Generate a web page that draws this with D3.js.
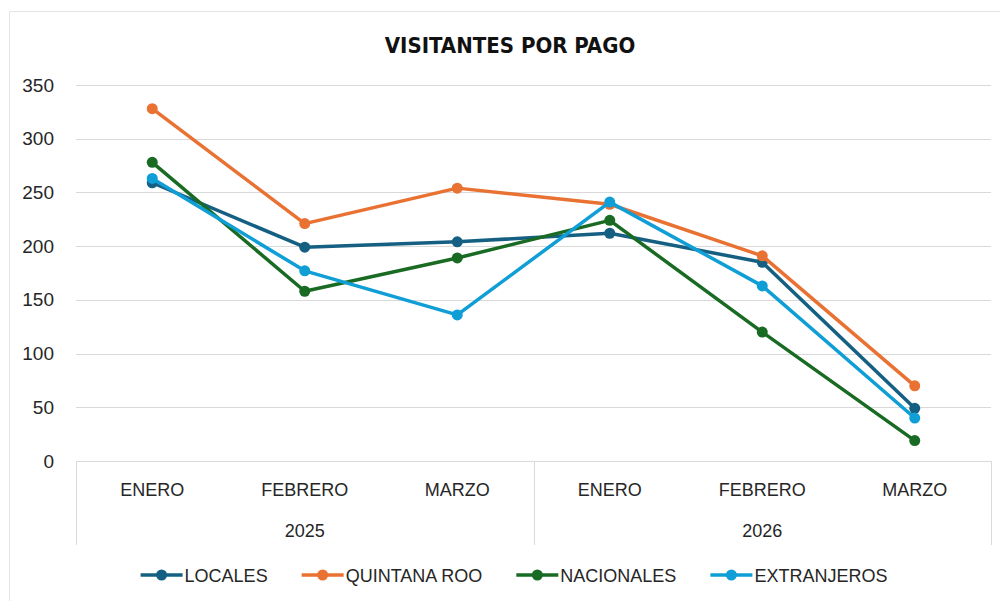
<!DOCTYPE html>
<html>
<head>
<meta charset="utf-8">
<script src="https://cdn.jsdelivr.net/npm/d3@7"></script>
<style>
  body { margin: 0; background: #fff; }
  svg { display: block; font-family: "Liberation Sans", Arial, sans-serif; }
</style>
</head>
<body>
<div class="chart-container"></div>
<script>
// data
var months = ["ENERO", "FEBRERO", "MARZO", "ENERO", "FEBRERO", "MARZO"];
var years = ["2025", "2026"];
var yTicks = [0, 50, 100, 150, 200, 250, 300, 350];

var locales     = [259, 199, 204, 212, 185, 49];
var quintanaRoo = [328, 221, 254, 239, 191, 70];
var nacionales  = [278, 158, 189, 224, 120, 19];
var extranjeros = [263, 177, 136, 241, 163, 40];

var seriesNames = ["LOCALES", "QUINTANA ROO", "NACIONALES", "EXTRANJEROS"];
var seriesColors = ["#156082", "#e97132", "#196b24", "#0f9ed5"];

var series = [locales, quintanaRoo, nacionales, extranjeros].map(function (vals, i) {
    return {name: seriesNames[i], color: seriesColors[i], values: vals};
});

var width = 1000, height = 601;
var margin = {top: 85, right: 9, bottom: 140, left: 76};
var plotW = width - margin.left - margin.right;   // 915
var plotH = height - margin.top - margin.bottom;  // 376

var svg = d3.select(".chart-container")
    .append("svg")
    .attr("width", width)
    .attr("height", height);

// outer frame (left + top only visible)
svg.append("path")
    .attr("d", "M9.5," + height + "V11.5H" + width)
    .attr("fill", "none")
    .attr("stroke", "#e3e3e3")
    .attr("stroke-width", 1);

svg.append("text")
    .attr("x", 510)
    .attr("y", 53)
    .attr("text-anchor", "middle")
    .style("font-family", "'Liberation Sans Narrow', 'DejaVu Sans Condensed', sans-serif")
    .style("font-weight", "bold")
    .style("font-size", "22px")
    .attr("fill", "#111")
    .text("VISITANTES POR PAGO");

var g = svg.append("g")
    .attr("transform", "translate(" + margin.left + "," + margin.top + ")");

var x = d3.scaleBand()
    .domain(d3.range(months.length))
    .range([0, plotW])
    .padding(0);

var y = d3.scaleLinear()
    .domain([0, 350])
    .range([plotH, 0]);

function cx(i) { return x(i) + x.bandwidth() / 2; }

// gridlines
g.append("g")
    .selectAll("line")
    .data(yTicks.filter(function (t) { return t > 0; }))
    .enter().append("line")
    .attr("x1", 0)
    .attr("x2", plotW)
    .attr("y1", function (d) { return Math.round(y(d)) + 0.5; })
    .attr("y2", function (d) { return Math.round(y(d)) + 0.5; })
    .attr("stroke", "#d9d9d9")
    .attr("stroke-width", 1);

// y axis labels
var yAxis = g.append("g")
    .call(d3.axisLeft(y).tickValues(yTicks).tickSize(0).tickPadding(22));
yAxis.select(".domain").remove();
yAxis.selectAll("text")
    .style("font-size", "19px")
    .style("font-family", "'Liberation Sans', Arial, sans-serif")
    .attr("fill", "#262626");

// category axis: baseline + group dividers
var axisColor = "#d9d9d9";
var divH = 84;
g.append("line")
    .attr("x1", 0).attr("x2", plotW)
    .attr("y1", plotH + 0.5).attr("y2", plotH + 0.5)
    .attr("stroke", axisColor);

var groupEdges = [0, 3, 6];
g.append("g")
    .selectAll("line")
    .data(groupEdges)
    .enter().append("line")
    .attr("x1", function (d) { return Math.round(d === 6 ? plotW : x(d)) + 0.5; })
    .attr("x2", function (d) { return Math.round(d === 6 ? plotW : x(d)) + 0.5; })
    .attr("y1", plotH)
    .attr("y2", plotH + divH)
    .attr("stroke", axisColor);

g.append("g")
    .selectAll("text")
    .data(months)
    .enter().append("text")
    .attr("x", function (d, i) { return cx(i); })
    .attr("y", plotH + 35)
    .attr("text-anchor", "middle")
    .style("font-size", "18px")
    .attr("fill", "#262626")
    .text(function (d) { return d; });

g.append("g")
    .selectAll("text")
    .data(years)
    .enter().append("text")
    .attr("x", function (d, i) { return (x(i * 3) + x(i * 3 + 2) + x.bandwidth()) / 2; })
    .attr("y", plotH + 76)
    .attr("text-anchor", "middle")
    .style("font-size", "18px")
    .attr("fill", "#262626")
    .text(function (d) { return d; });

// lines + markers
var line = d3.line()
    .x(function (d, i) { return cx(i); })
    .y(function (d) { return y(d); });

var sg = g.selectAll(".series")
    .data(series)
    .enter().append("g")
    .attr("class", "series");

sg.append("path")
    .attr("d", function (d) { return line(d.values); })
    .attr("fill", "none")
    .attr("stroke", function (d) { return d.color; })
    .attr("stroke-width", 3.5)
    .attr("stroke-linejoin", "round");

sg.selectAll("circle")
    .data(function (d) { return d.values.map(function (v) { return {v: v, color: d.color}; }); })
    .enter().append("circle")
    .attr("cx", function (d, i) { return cx(i); })
    .attr("cy", function (d) { return y(d.v); })
    .attr("r", 5.5)
    .attr("fill", function (d) { return d.color; });

// legend
var legend = svg.append("g").attr("transform", "translate(0,575)");
var items = legend.selectAll("g")
    .data(series)
    .enter().append("g");

items.append("line")
    .attr("x1", 0).attr("x2", 42)
    .attr("y1", 0).attr("y2", 0)
    .attr("stroke", function (d) { return d.color; })
    .attr("stroke-width", 3.5);
items.append("circle")
    .attr("cx", 21).attr("cy", 0).attr("r", 5.5)
    .attr("fill", function (d) { return d.color; });
items.append("text")
    .attr("x", 44)
    .attr("y", 6.5)
    .style("font-size", "18px")
    .attr("fill", "#262626")
    .text(function (d) { return d.name; });

var gap = 34, total = 0, widths = [];
items.each(function () {
    var w = 44 + d3.select(this).select("text").node().getComputedTextLength();
    widths.push(w);
    total += w;
});
total += gap * (widths.length - 1);
var lx = 514 - total / 2;
items.attr("transform", function (d, i) {
    var t = "translate(" + lx + ",0)";
    lx += widths[i] + gap;
    return t;
});
</script>
</body>
</html>
